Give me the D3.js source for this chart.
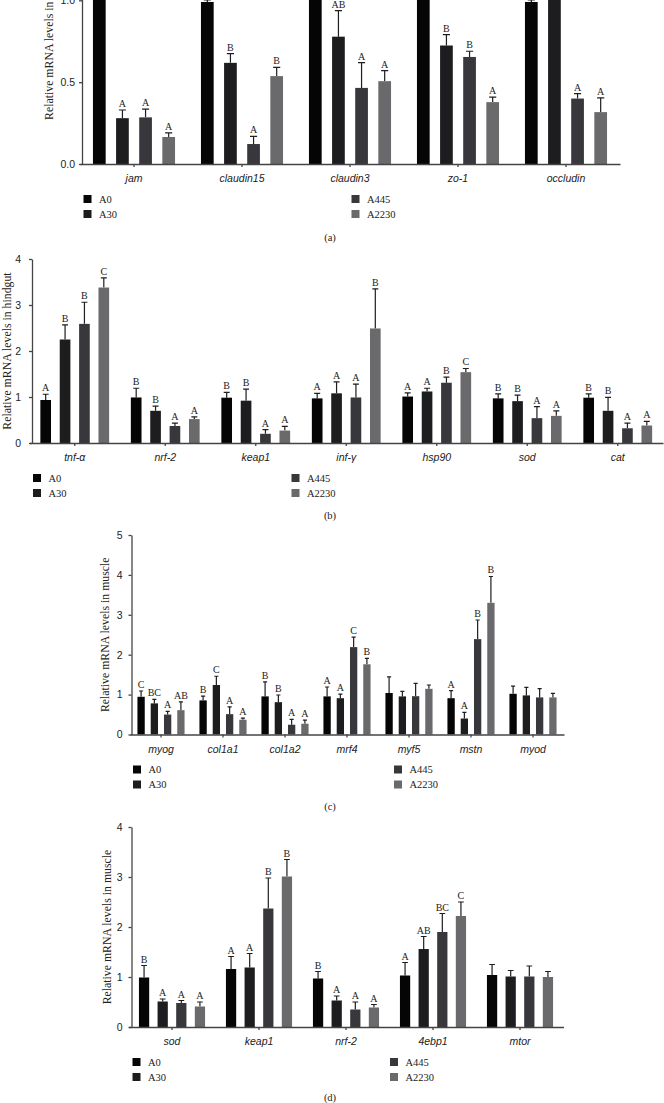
<!DOCTYPE html>
<html>
<head>
<meta charset="utf-8">
<script src="https://cdn.jsdelivr.net/npm/d3@7"></script>
<style>
  body { margin: 0; background: #fff; }
  svg { display: block; font-family: "Liberation Serif", "DejaVu Serif", serif; }
  .axis path, .axis line { stroke: #444; stroke-width: 1.3; }
  .axis text { fill: #222; font-size: 10.5px; }
</style>
</head>
<body>
<script>
// groups shared by all four panels
const groups = ["A0", "A30", "A445", "A2230"];
const groupColors = ["#050505", "#1d1d20", "#38383c", "#6a6a6d"];

// (a) hindgut, tight junction genes  (rows = gene, cols = group)
const genesA = ["jam", "claudin15", "claudin3", "zo-1", "occludin"];
const meansA = [[1.02, 0.28, 0.285, 0.165], [0.99, 0.618, 0.122, 0.537], [1.02, 0.778, 0.465, 0.506], [1.05, 0.724, 0.654, 0.378], [0.99, 1.1, 0.40, 0.317]];
const errsA = [[0.05, 0.05, 0.05, 0.025], [0.012, 0.057, 0.047, 0.053], [0.05, 0.159, 0.155, 0.065], [0.05, 0.066, 0.035, 0.03], [0.012, 0.05, 0.03, 0.087]];
const lettersA = [["", "A", "A", "A"], ["", "B", "A", "B"], ["", "AB", "A", "A"], ["", "B", "B", "A"], ["", "", "A", "A"]];
const ticksA = [0, 0.5, 1.0, 1.5];

// (b) hindgut, inflammation / antioxidant genes
const genesB = ["tnf-α", "nrf-2", "keap1", "inf-γ", "hsp90", "sod", "cat"];
const meansB = [[0.935, 2.25, 2.59, 3.38], [0.99, 0.70, 0.37, 0.52], [0.985, 0.92, 0.20, 0.27], [0.97, 1.08, 0.99, 2.49], [1.01, 1.12, 1.31, 1.54], [0.97, 0.91, 0.54, 0.59], [0.985, 0.70, 0.32, 0.38]];
const errsB = [[0.125, 0.32, 0.47, 0.21], [0.20, 0.10, 0.06, 0.05], [0.115, 0.25, 0.09, 0.09], [0.11, 0.25, 0.29, 0.86], [0.08, 0.07, 0.12, 0.08], [0.10, 0.13, 0.25, 0.11], [0.085, 0.29, 0.11, 0.09]];
const lettersB = [["A", "B", "B", "C"], ["B", "B", "A", "A"], ["B", "B", "A", "A"], ["A", "A", "A", "B"], ["A", "A", "B", "C"], ["B", "B", "A", "A"], ["B", "B", "A", "A"]];
const ticksB = [0, 1, 2, 3, 4];

// (c) muscle, growth genes
const genesC = ["myog", "col1a1", "col1a2", "mrf4", "myf5", "mstn", "myod"];
const meansC = [[0.945, 0.78, 0.50, 0.61], [0.855, 1.24, 0.51, 0.37], [0.955, 0.81, 0.245, 0.27], [0.955, 0.91, 2.19, 1.76], [1.04, 0.955, 0.96, 1.145], [0.91, 0.40, 2.39, 3.30], [1.02, 0.98, 0.93, 0.93]];
const errsC = [[0.145, 0.10, 0.08, 0.21], [0.105, 0.22, 0.18, 0.04], [0.365, 0.18, 0.135, 0.09], [0.235, 0.10, 0.25, 0.15], [0.405, 0.125, 0.32, 0.095], [0.19, 0.155, 0.48, 0.66], [0.19, 0.20, 0.22, 0.10]];
const lettersC = [["C", "BC", "A", "AB"], ["B", "C", "A", "A"], ["B", "B", "A", "A"], ["A", "A", "C", "B"], ["", "", "", ""], ["A", "A", "B", "B"], ["", "", "", ""]];
const ticksC = [0, 1, 2, 3, 4, 5];

// (d) muscle, antioxidant / mtor genes
const genesD = ["sod", "keap1", "nrf-2", "4ebp1", "mtor"];
const meansD = [[0.99, 0.51, 0.48, 0.41], [1.16, 1.19, 2.37, 3.01], [0.97, 0.53, 0.35, 0.39], [1.03, 1.56, 1.90, 2.22], [1.04, 1.01, 1.01, 1.00]];
const errsD = [[0.24, 0.05, 0.05, 0.09], [0.25, 0.28, 0.61, 0.34], [0.14, 0.09, 0.15, 0.06], [0.26, 0.25, 0.37, 0.28], [0.21, 0.12, 0.21, 0.11]];
const lettersD = [["B", "A", "A", "A"], ["A", "A", "B", "B"], ["B", "A", "A", "A"], ["A", "AB", "BC", "C"], ["", "", "", ""]];
const ticksD = [0, 1, 2, 3, 4];

const svg = d3.select("body").append("svg")
  .attr("width", 664)
  .attr("height", 1103);

function drawPanel(p) {
  const g = svg.append("g");
  const y = d3.scaleLinear().domain([0, p.yMax]).range([p.base, p.top]);
  const x = d3.scaleBand().domain(p.genes).range([p.left, p.right]);
  const half = 0.38 * x.bandwidth();
  const inner = d3.scaleBand().domain(groups).range([-half, half]).paddingInner(0.45);
  const bw = inner.bandwidth();
  const color = d3.scaleOrdinal().domain(groups).range(groupColors);

  // flatten gene x group
  const rows = [];
  p.genes.forEach((gene, i) => {
    groups.forEach((grp, j) => {
      rows.push({gene: gene, grp: grp, v: p.means[i][j], e: p.errs[i][j], l: p.letters[i][j]});
    });
  });
  const cx = d => x(d.gene) + x.bandwidth() / 2 + inner(d.grp);

  // error bars (upper only)
  g.selectAll(".eb").data(rows).enter().append("path")
    .attr("d", d => {
      const xm = cx(d) + bw / 2, c = bw * 0.28;
      return "M" + xm + "," + y(d.v) + "V" + y(d.v + d.e) + "M" + (xm - c) + "," + y(d.v + d.e) + "H" + (xm + c);
    })
    .attr("stroke", "#1e1e1e")
    .attr("stroke-width", 1.2)
    .attr("fill", "none");

  g.selectAll(".bar").data(rows).enter().append("rect")
    .attr("x", d => cx(d))
    .attr("y", d => y(d.v))
    .attr("width", bw)
    .attr("height", d => y(0) - y(d.v))
    .attr("fill", d => color(d.grp));

  g.selectAll(".lt").data(rows.filter(d => d.l)).enter().append("text")
    .attr("x", d => cx(d) + bw / 2)
    .attr("y", d => y(d.v + d.e) - 3)
    .attr("text-anchor", "middle")
    .attr("font-size", "10px")
    .attr("fill", "#222")
    .text(d => d.l);

  // axes
  g.append("g").attr("class", "axis")
    .attr("transform", "translate(0," + p.base + ")")
    .call(d3.axisBottom(x).tickSizeInner(3).tickSizeOuter(0).tickPadding(8))
    .selectAll("text").attr("font-style", "italic");

  g.append("g").attr("class", "axis")
    .attr("transform", "translate(" + p.axisX + ",0)")
    .call(d3.axisLeft(y).tickValues(p.ticks).tickFormat(d3.format(p.fmt)).tickSizeInner(3).tickSizeOuter(0).tickPadding(p.tickPad));

  g.append("text")
    .attr("transform", "translate(" + p.labelX + "," + (p.base + p.top) / 2 + ") rotate(-90)")
    .attr("text-anchor", "middle")
    .attr("dy", "0.35em")
    .attr("font-size", "11.8px")
    .attr("fill", "#222")
    .text(p.label);

  // legend: two columns, two rows
  groups.forEach((grp, j) => {
    const lx = p.legendX[Math.floor(j / 2)];
    const ly = p.base + 35 + (j % 2) * 15;
    g.append("rect").attr("x", lx).attr("y", ly - 4).attr("width", 8).attr("height", 8).attr("fill", color(grp));
    g.append("text").attr("x", lx + 15.5).attr("y", ly + 3.5)
      .attr("font-size", "10.5px").attr("fill", "#222").text(grp);
  });

  g.append("text")
    .attr("x", 330)
    .attr("y", p.base + p.tagDy + 3.5)
    .attr("text-anchor", "middle")
    .attr("font-size", "10.5px")
    .attr("fill", "#222")
    .text(p.tag);
}

drawPanel({genes: genesA, means: meansA, errs: errsA, letters: lettersA, ticks: ticksA, fmt: ".1f",
  yMax: 1.5, base: 164, top: -81.5, left: 80, right: 620, axisX: 82, tickPad: 4,
  label: "Relative mRNA levels in hindgut", labelX: 49, legendX: [83.5, 351.5], tag: "(a)", tagDy: 73});

drawPanel({genes: genesB, means: meansB, errs: errsB, letters: lettersB, ticks: ticksB, fmt: "d",
  yMax: 4, base: 443, top: 259, left: 29.5, right: 663, axisX: 32, tickPad: 8,
  label: "Relative mRNA levels in hindgut", labelX: 7, legendX: [33, 291.5], tag: "(b)", tagDy: 72});

drawPanel({genes: genesC, means: meansC, errs: errsC, letters: lettersC, ticks: ticksC, fmt: "d",
  yMax: 5, base: 734.5, top: 535, left: 130, right: 564, axisX: 131.5, tickPad: 6,
  label: "Relative mRNA levels in muscle", labelX: 105, legendX: [133, 394], tag: "(c)", tagDy: 72});

drawPanel({genes: genesD, means: meansD, errs: errsD, letters: lettersD, ticks: ticksD, fmt: "d",
  yMax: 4, base: 1027, top: 827, left: 128.5, right: 563.5, axisX: 131.5, tickPad: 6,
  label: "Relative mRNA levels in muscle", labelX: 107, legendX: [132.5, 390], tag: "(d)", tagDy: 70});
</script>
</body>
</html>
